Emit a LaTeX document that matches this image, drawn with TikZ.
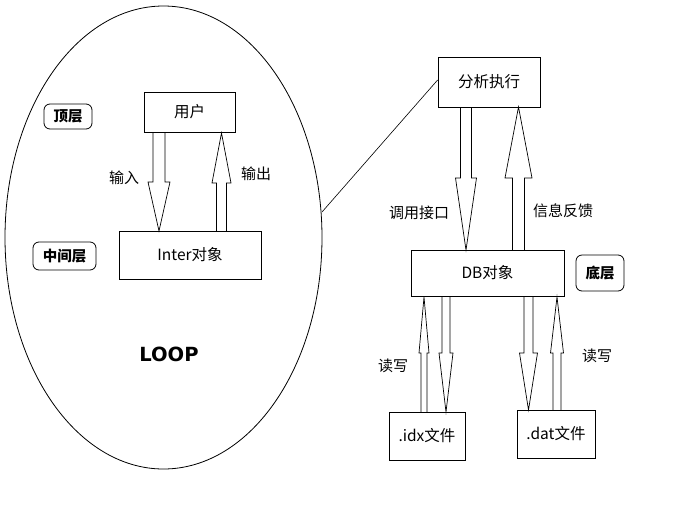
\documentclass[tikz,border=0pt]{standalone}
\usepackage{fontspec}
\setmainfont{Noto Sans CJK SC}
\newfontfamily\loopfont{DejaVu Sans}
\tikzset{
  box/.style={draw, line width=0.8pt, inner sep=0pt, font=\fontsize{15.5}{15.5}\selectfont},
  tag/.style={draw, line width=0.8pt, rounded corners=6pt, inner sep=0pt, font=\fontsize{14.5}{14.5}\selectfont\bfseries},
  lbl/.style={inner sep=0pt, font=\fontsize{15}{15}\selectfont},
  harr/.style={draw, line width=0.7pt},
  conn/.style={draw, line width=0.6pt}
}
% #1 shaft x centre, #2 tail y, #3 tip y, #4 neck y, #5 shaft half width, #6 head half width
\newcommand\hollowarrow[6]{%
  \path[harr] (#1-#5,#2) -- (#1-#5,#4) -- (#1-#6,#4) -- (#1,#3) -- (#1+#6,#4) -- (#1+#5,#4) -- (#1+#5,#2);}
\begin{document}
\begin{tikzpicture}[x=1pt,y=-1pt]
\useasboundingbox (0,0) rectangle (699,504);
% loop ellipse
\draw[line width=0.8pt] (163.5,237.5) ellipse [x radius=158.5, y radius=231.5];
\coordinate (ellR) at (322,212);
% top / middle layer
\node[box, minimum width=91pt, minimum height=40pt] (user) at (189.5,112) {用户};
\node[box, minimum width=142pt, minimum height=48pt] (inter) at (190,255) {Inter对象};
\node[tag, minimum width=48pt, minimum height=25pt] (top) at (68,116.5) {顶层};
\node[tag, minimum width=63pt, minimum height=28pt] (mid) at (64.5,256) {中间层};
\node[inner sep=0pt, font=\loopfont\fontsize{19.5}{19.5}\selectfont\bfseries] (loop) at (169,354) {LOOP};
\hollowarrow{159}{132}{231}{182}{6}{11}
\hollowarrow{221.5}{231}{133}{183}{5}{9.5}
\node[lbl] (in) at (124,178) {输入};
\node[lbl] (out) at (256,174) {输出};
% right side
\node[box, minimum width=102pt, minimum height=50pt] (exec) at (489,82) {分析执行};
\node[box, minimum width=153pt, minimum height=46pt] (db) at (487.5,273) {DB对象};
\node[tag, minimum width=48pt, minimum height=36pt] (bottom) at (600,273) {底层};
\draw[conn] (ellR) -- (exec.west |- 0,80);
\hollowarrow{466}{107}{250}{178}{5.5}{10.5}
\hollowarrow{518.5}{250}{107}{178}{6}{13.5}
\node[lbl] (call) at (419,213) {调用接口};
\node[lbl] (fb) at (563,211) {信息反馈};
% files
\node[box, minimum width=76pt, minimum height=48pt] (idx) at (427,436) {.idx文件};
\node[box, minimum width=78pt, minimum height=48pt] (dat) at (556,434) {.dat文件};
\hollowarrow{424}{412}{297}{353}{3}{5}
\hollowarrow{446}{296}{412}{353}{4}{7}
\hollowarrow{528.5}{296}{410}{353}{4.5}{9}
\hollowarrow{557}{410}{297}{353}{4}{6.5}
\node[lbl] (rw1) at (393,366) {读写};
\node[lbl] (rw2) at (597,356) {读写};
\end{tikzpicture}
\end{document}
